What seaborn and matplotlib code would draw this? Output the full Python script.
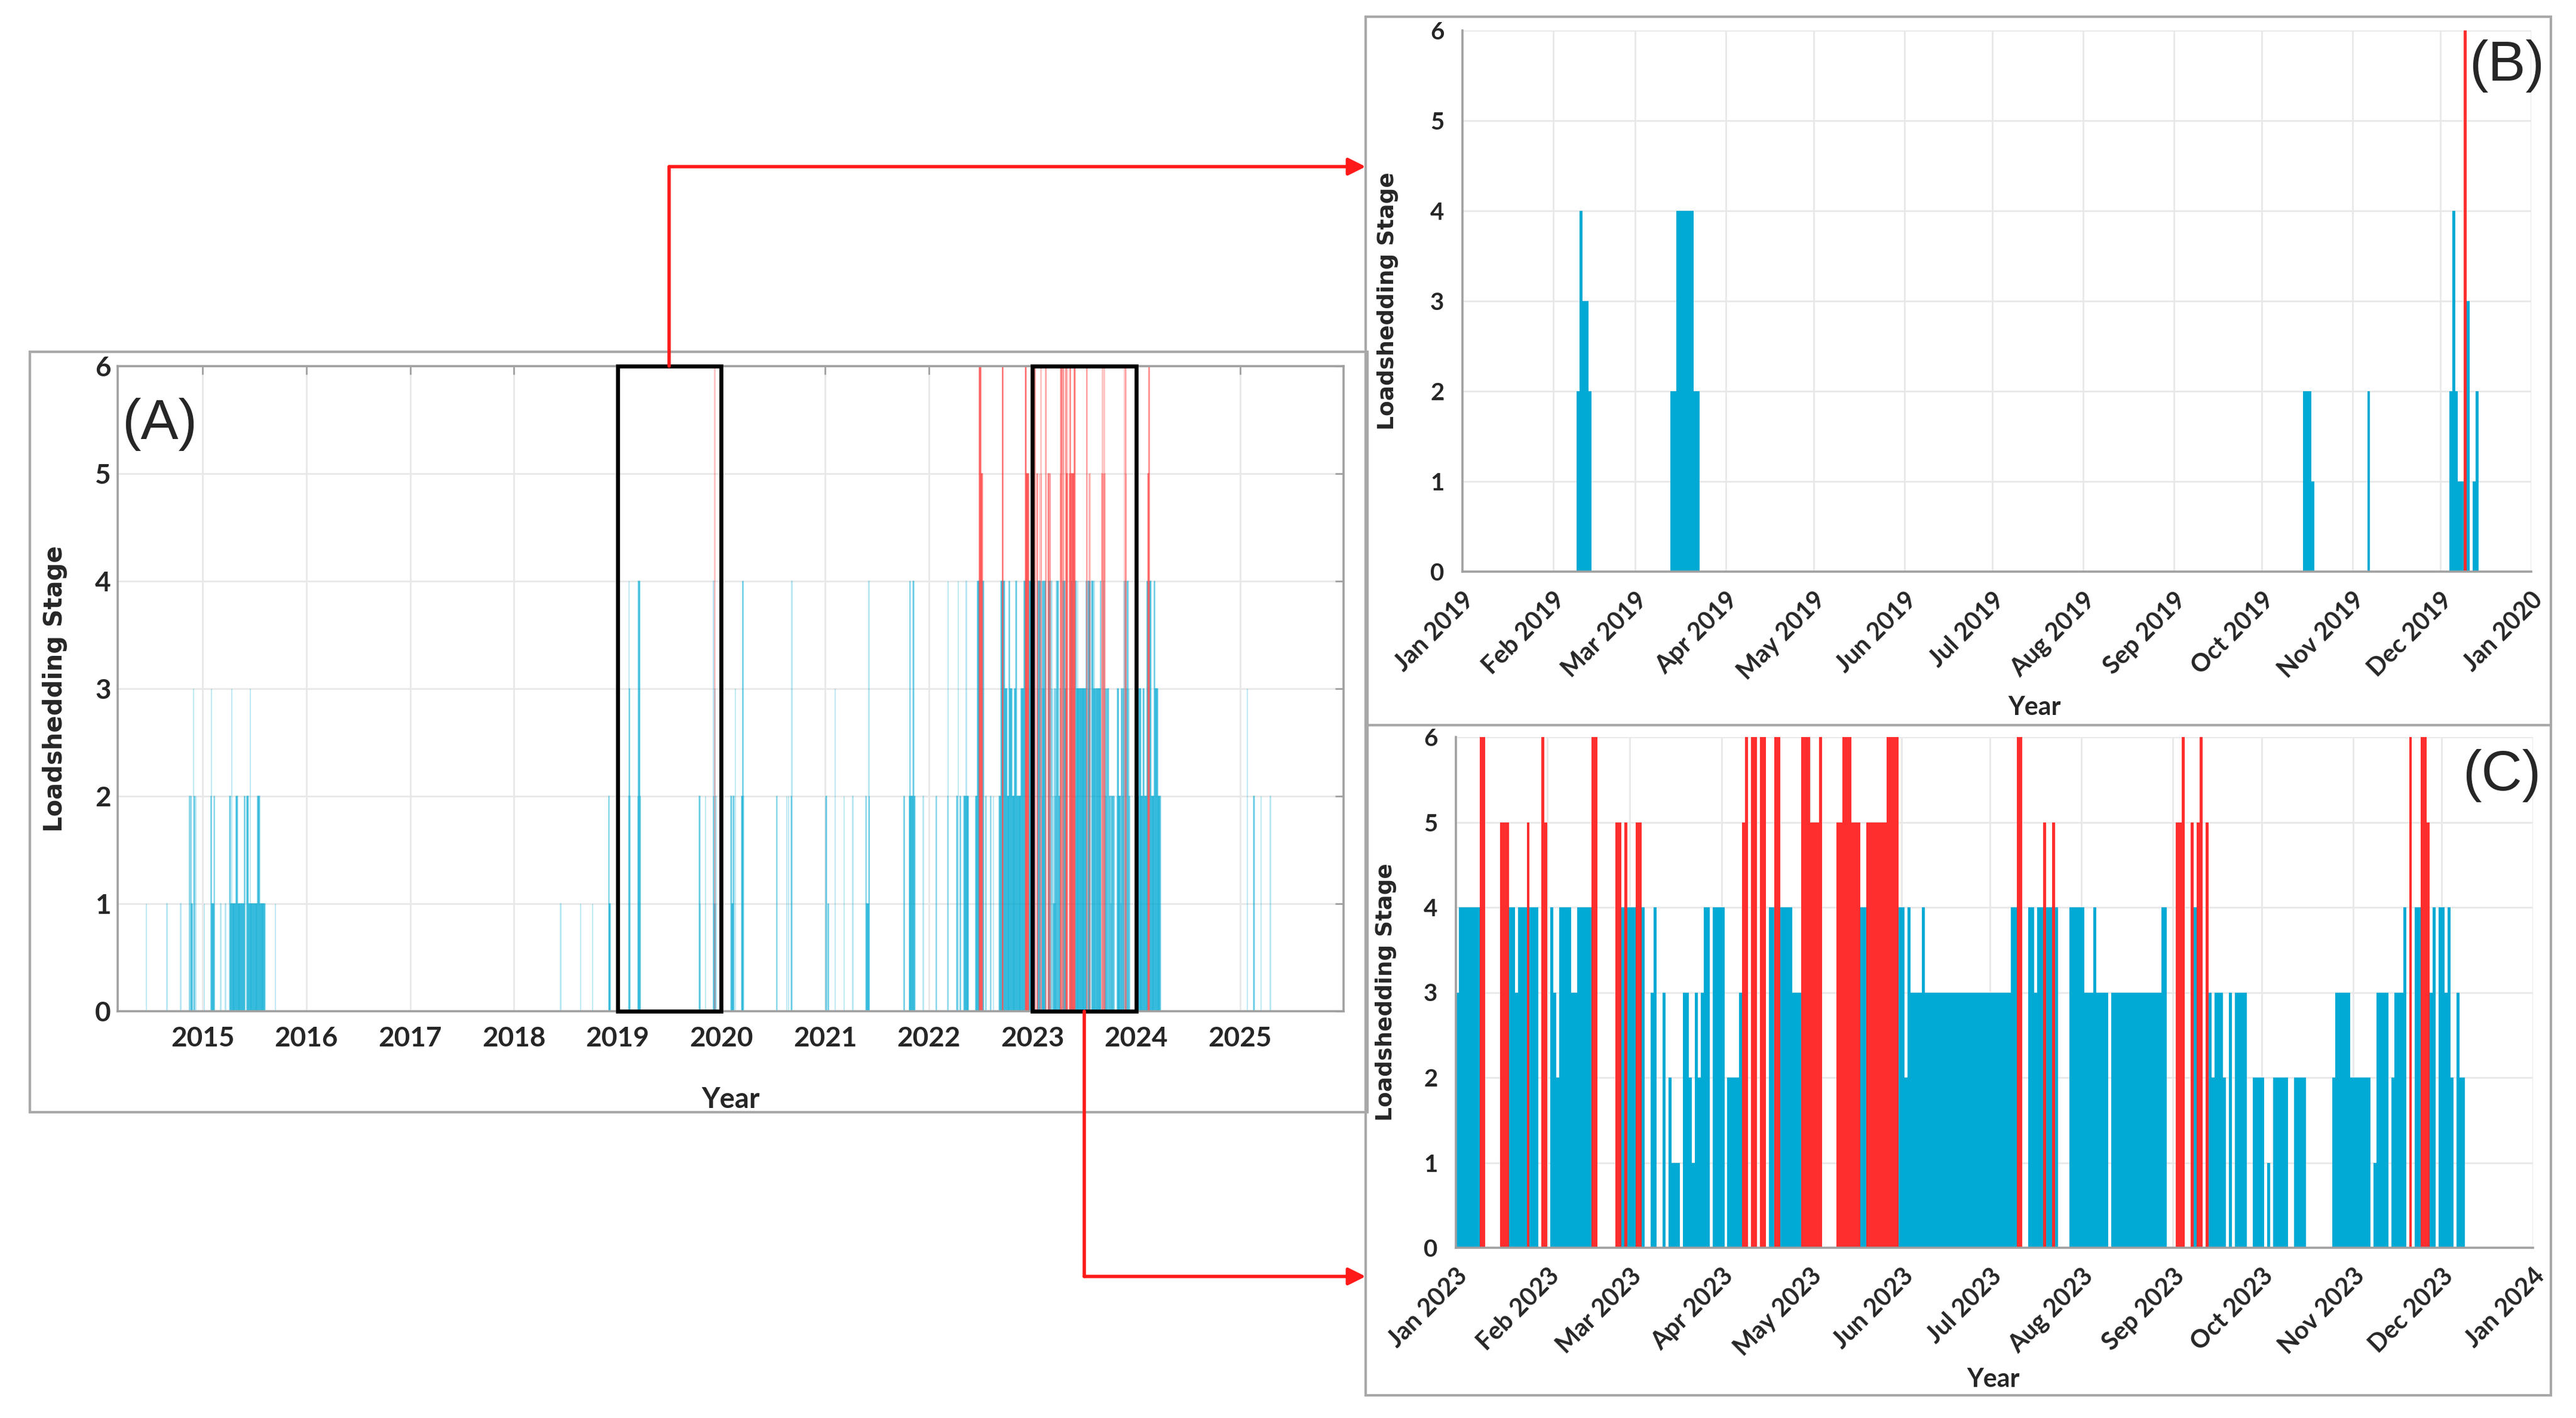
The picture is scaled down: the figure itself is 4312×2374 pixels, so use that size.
import matplotlib
matplotlib.use("Agg")
import matplotlib.pyplot as plt
import matplotlib.dates as mdates
from matplotlib.patches import Rectangle, FancyArrowPatch
from matplotlib.lines import Line2D
import seaborn as sns
import pandas as pd
import numpy as np

BLUE = "#00AAD4"
RED = "#FF2E2E"
GREY = "#A0A0A0"

# ---- panel B: 2019 runs (first day, last day, stage)
b_first = ["2019-02-09", "2019-02-10", "2019-02-11", "2019-02-13", "2019-03-13", "2019-03-15",
           "2019-03-21", "2019-10-15", "2019-10-18", "2019-11-06", "2019-12-04", "2019-12-05",
           "2019-12-06", "2019-12-07", "2019-12-09", "2019-12-10", "2019-12-12", "2019-12-13"]
b_last = ["2019-02-09", "2019-02-10", "2019-02-12", "2019-02-13", "2019-03-14", "2019-03-20",
          "2019-03-22", "2019-10-17", "2019-10-18", "2019-11-06", "2019-12-04", "2019-12-05",
          "2019-12-06", "2019-12-08", "2019-12-09", "2019-12-10", "2019-12-12", "2019-12-13"]
b_stage = [2, 4, 3, 2, 2, 4, 2, 2, 1, 2, 2, 4, 2, 1, 6, 3, 1, 2]

# ---- panel C: 2023 runs, day offsets from 1 Jan 2023
c_first = [0, 1, 8, 15, 18, 20, 21, 24, 25, 29, 30,
           32, 33, 34, 35, 39, 41, 46, 54, 56, 57, 58,
           61, 63, 66, 67, 70, 72, 73, 77, 79, 80, 81, 82, 83, 84, 87,
           92, 96, 97, 98, 100, 103, 106, 108, 110, 114, 117,
           120, 123, 129, 131, 134, 137, 139, 146, 150,
           152, 153, 154, 158, 159,
           188, 190, 194, 196, 197, 199, 200, 202, 203, 208,
           213, 216, 217, 222, 239,
           244, 246, 249, 250, 251, 252, 254, 255, 256, 257, 260, 262, 264, 270,
           275, 277, 284, 297, 298,
           303, 311, 312, 317, 318, 321, 323, 325, 327, 329, 330, 331, 333,
           335, 336, 337, 339, 340]
c_last = [0, 7, 9, 17, 19, 20, 23, 24, 27, 29, 30,
          32, 33, 34, 38, 40, 45, 47, 55, 56, 57, 60,
          62, 63, 66, 67, 70, 72, 75, 78, 79, 80, 81, 82, 83, 85, 90,
          95, 96, 97, 98, 101, 104, 107, 109, 113, 116, 119,
          122, 123, 130, 133, 136, 138, 145, 149, 151,
          152, 153, 157, 158, 187,
          189, 191, 195, 196, 198, 199, 201, 202, 203, 212,
          215, 216, 220, 238, 240,
          245, 246, 249, 250, 251, 252, 254, 255, 256, 259, 260, 262, 267, 273,
          275, 281, 287, 297, 302,
          309, 311, 315, 317, 320, 321, 323, 326, 328, 329, 330, 331, 334,
          335, 336, 337, 339, 341]
c_stage = [3, 4, 6, 5, 4, 3, 4, 5, 4, 6, 5,
           4, 3, 2, 4, 3, 4, 6, 5, 4, 5, 4,
           5, 4, 3, 4, 3, 2, 1, 3, 2, 1, 3, 2, 3, 4, 4,
           2, 3, 5, 6, 6, 6, 4, 6, 4, 3, 6,
           5, 6, 5, 6, 5, 4, 5, 6, 4,
           2, 4, 3, 4, 3,
           4, 6, 4, 3, 4, 5, 4, 5, 4, 4,
           3, 4, 3, 3, 4,
           5, 6, 5, 4, 5, 6, 5, 3, 2, 3, 2, 3, 3, 2,
           1, 2, 2, 2, 3,
           2, 1, 3, 2, 3, 4, 6, 4, 6, 5, 3, 4, 4,
           3, 4, 2, 3, 2]

# ---- panel A: other years (2019 and 2023 come from B and C)
a_first = ["2014-06-16", "2014-08-28", "2014-10-15", "2014-11-15", "2014-11-20", "2014-11-22",
           "2014-11-30", "2014-12-02", "2014-12-08",
           "2015-01-06", "2015-01-30", "2015-02-01", "2015-02-02", "2015-02-10", "2015-03-05",
           "2015-03-22", "2015-04-06", "2015-04-09", "2015-04-13", "2015-04-14", "2015-04-28",
           "2015-05-04", "2015-05-27", "2015-06-05", "2015-06-11", "2015-06-17", "2015-06-18",
           "2015-07-13", "2015-07-21", "2015-09-14",
           "2018-06-14", "2018-08-24", "2018-10-05", "2018-11-30", "2018-12-02",
           "2020-02-04", "2020-02-07", "2020-02-12", "2020-02-19", "2020-03-12", "2020-03-16",
           "2020-03-19", "2020-07-14", "2020-08-18", "2020-08-24", "2020-09-03", "2020-09-05",
           "2021-01-03", "2021-01-10", "2021-02-05", "2021-03-08", "2021-04-08", "2021-05-24",
           "2021-05-26", "2021-06-03", "2021-06-04", "2021-10-05", "2021-10-23", "2021-10-26",
           "2021-10-28", "2021-11-06", "2021-11-09", "2021-12-12",
           "2022-01-26", "2022-03-08", "2022-03-09", "2022-04-09", "2022-04-14", "2022-04-20",
           "2022-05-04", "2022-05-12", "2022-05-13", "2022-06-14", "2022-06-20", "2022-06-27",
           "2022-07-04", "2022-07-09", "2022-07-20", "2022-08-05", "2022-08-16", "2022-09-05",
           "2022-09-11", "2022-09-16", "2022-09-20", "2022-09-25", "2022-10-03", "2022-10-10",
           "2022-10-13", "2022-10-21", "2022-10-29", "2022-11-03", "2022-11-06", "2022-11-21",
           "2022-12-01", "2022-12-06", "2022-12-10", "2022-12-19",
           "2024-01-05", "2024-01-10", "2024-01-17", "2024-01-25", "2024-01-29", "2024-02-07",
           "2024-02-11", "2024-02-14", "2024-02-17", "2024-02-22", "2024-03-04", "2024-03-07",
           "2024-03-17",
           "2025-01-26", "2025-02-17", "2025-03-15", "2025-04-17"]
a_last = ["2014-06-16", "2014-08-28", "2014-10-15", "2014-11-16", "2014-11-21", "2014-11-25",
          "2014-11-30", "2014-12-04", "2014-12-08",
          "2015-01-06", "2015-01-31", "2015-02-01", "2015-02-09", "2015-02-11", "2015-03-05",
          "2015-03-22", "2015-04-08", "2015-04-12", "2015-04-13", "2015-04-27", "2015-05-03",
          "2015-05-26", "2015-05-29", "2015-06-10", "2015-06-16", "2015-06-17", "2015-07-12",
          "2015-07-20", "2015-08-08", "2015-09-14",
          "2018-06-14", "2018-08-24", "2018-10-05", "2018-12-01", "2018-12-06",
          "2020-02-06", "2020-02-11", "2020-02-14", "2020-02-19", "2020-03-15", "2020-03-18",
          "2020-03-19", "2020-07-15", "2020-08-18", "2020-08-24", "2020-09-04", "2020-09-05",
          "2021-01-05", "2021-01-12", "2021-02-05", "2021-03-08", "2021-04-08", "2021-05-25",
          "2021-06-02", "2021-06-03", "2021-06-05", "2021-10-07", "2021-10-25", "2021-10-27",
          "2021-11-05", "2021-11-08", "2021-11-12", "2021-12-12",
          "2022-01-27", "2022-03-08", "2022-03-09", "2022-04-11", "2022-04-14", "2022-04-22",
          "2022-05-11", "2022-05-12", "2022-05-20", "2022-06-19", "2022-06-26", "2022-07-03",
          "2022-07-08", "2022-07-12", "2022-07-21", "2022-08-06", "2022-08-16", "2022-09-10",
          "2022-09-15", "2022-09-19", "2022-09-24", "2022-10-02", "2022-10-09", "2022-10-12",
          "2022-10-20", "2022-10-28", "2022-11-02", "2022-11-05", "2022-11-20", "2022-11-30",
          "2022-12-05", "2022-12-09", "2022-12-18", "2022-12-31",
          "2024-01-09", "2024-01-16", "2024-01-24", "2024-01-28", "2024-02-06", "2024-02-10",
          "2024-02-13", "2024-02-16", "2024-02-21", "2024-03-03", "2024-03-06", "2024-03-16",
          "2024-03-26",
          "2025-01-26", "2025-02-19", "2025-03-15", "2025-04-17"]
a_stage = [1, 1, 1, 2, 2, 1, 3, 2, 2,
           1, 2, 3, 1, 2, 1, 1, 2, 1, 3, 1, 2, 1, 2, 2, 1, 3, 1, 2, 1, 1,
           1, 1, 1, 2, 1,
           2, 1, 2, 3, 2, 4, 2, 2, 2, 2, 2, 4,
           2, 1, 3, 2, 2, 2, 1, 4, 2, 2, 2, 4, 2, 4, 2, 2,
           2, 2, 4, 2, 4, 2, 2, 4, 2, 2, 4, 6, 5, 4, 2, 2, 2, 2, 4, 6, 4, 3, 2, 4,
           3, 2, 3, 4, 2, 3, 4, 6, 5, 4,
           2, 3, 2, 3, 2, 4, 5, 6, 4, 2, 4, 3, 2,
           3, 2, 2, 2]


def daily(first, last, stage):
    rows = []
    for f, l, s in zip(first, last, stage):
        for d in pd.date_range(f, l, freq="D"):
            rows.append((d, s))
    df = pd.DataFrame(rows, columns=["date", "stage"])
    df["x"] = mdates.date2num(df["date"]) + 0.5
    df["level"] = np.where(df["stage"] >= 5, "high", "normal")
    return df


c_base = pd.Timestamp("2023-01-01")
df_b = daily(b_first, b_last, b_stage)
df_c = daily([c_base + pd.Timedelta(days=d) for d in c_first],
             [c_base + pd.Timedelta(days=d) for d in c_last], c_stage)
df_a = pd.concat([daily(a_first, a_last, a_stage), df_b, df_c], ignore_index=True)

sns.set_theme(style="whitegrid")
plt.rcParams["font.family"] = ["Lato", "DejaVu Sans"]

W, H = 4312, 2374
fig = plt.figure(figsize=(W / 200, H / 200), dpi=200)


def px_axes(l, t, r, b):
    return fig.add_axes([l / W, 1 - b / H, (r - l) / W, (b - t) / H])


axA = px_axes(197, 613, 2249, 1693)
axB = px_axes(2448, 51, 4237, 957)
axC = px_axes(2437, 1234, 4240, 2089)


def bars(ax, df, **kw):
    sns.barplot(data=df, x="x", y="stage", hue="level", hue_order=["normal", "high"],
                palette={"normal": BLUE, "high": RED}, native_scale=True, dodge=False,
                width=1, saturation=1, errorbar=None, legend=False, ax=ax, **kw)


bars(axA, df_a, fill=False, linewidth=0.6, alpha=0.3)
bars(axB, df_b, linewidth=0)
bars(axC, df_c, linewidth=0)

for ax in (axA, axB, axC):
    ax.set_ylim(0, 6)
    ax.set_yticks(range(7))
    ax.grid(True, color="#E8E8E8", linewidth=1.0)
    ax.set_axisbelow(True)

# panel A styling
axA.set_xlim(mdates.datestr2num("2014-03-08"), mdates.datestr2num("2025-12-31"))
axA.xaxis.set_major_locator(mdates.YearLocator())
axA.xaxis.set_major_formatter(mdates.DateFormatter("%Y"))
for s in axA.spines.values():
    s.set_visible(True)
    s.set_color(GREY)
    s.set_linewidth(1.3)
axA.tick_params(axis="both", direction="in", length=5, width=1, color=GREY,
                top=True, right=True, labelsize=16.5)
axA.tick_params(axis="x", pad=9)
axA.tick_params(axis="y", pad=4)
for lab in axA.get_xticklabels() + axA.get_yticklabels():
    lab.set_fontweight("bold")
axA.set_xlabel("Year", fontsize=17, fontweight="bold")
axA.set_ylabel("Loadshedding Stage", fontsize=15, fontweight="bold", family="DejaVu Sans")
axA.xaxis.set_label_coords(0.5, -0.117)
axA.yaxis.set_label_coords(-0.041, 0.5)
axA.text(0.034, 0.91, "(A)", transform=axA.transAxes, ha="center", va="center",
         fontsize=34, family="Liberation Sans")

# zoom boxes
for yr in (2019, 2023):
    x0 = mdates.datestr2num(f"{yr}-01-01")
    x1 = mdates.datestr2num(f"{yr + 1}-01-01")
    axA.add_patch(Rectangle((x0, 0), x1 - x0, 6, fill=False, edgecolor="black",
                            linewidth=2.4, zorder=6, clip_on=False))

# panels B and C styling
for ax, yr, ylab_x, year_xy, tag, tag_xy in (
        (axB, 2019, -0.060, (0.535, -0.228), "(B)", (0.977, 0.934)),
        (axC, 2023, -0.055, (0.499, -0.234), "(C)", (0.971, 0.924))):
    ax.set_xlim(mdates.datestr2num(f"{yr}-01-01"), mdates.datestr2num(f"{yr + 1}-01-01"))
    ax.xaxis.set_major_locator(mdates.MonthLocator())
    ax.xaxis.set_major_formatter(mdates.DateFormatter("%b %Y"))
    for side in ("top", "right"):
        ax.spines[side].set_visible(False)
    for side in ("left", "bottom"):
        ax.spines[side].set_color(GREY)
        ax.spines[side].set_linewidth(1.3)
    ax.tick_params(axis="both", direction="out", length=6, width=1, color=GREY)
    ax.tick_params(axis="x", labelsize=15, pad=4)
    ax.tick_params(axis="y", labelsize=14.5, pad=5)
    plt.setp(ax.get_xticklabels(), rotation=45, ha="right", rotation_mode="anchor",
             fontweight="bold")
    plt.setp(ax.get_yticklabels(), fontweight="bold")
    ax.set_xlabel("Year", fontsize=15.5, fontweight="bold")
    ax.set_ylabel("Loadshedding Stage", fontsize=13.5, fontweight="bold", family="DejaVu Sans")
    ax.xaxis.set_label_coords(*year_xy)
    ax.yaxis.set_label_coords(ylab_x, 0.5)
    ax.text(*tag_xy, tag, transform=ax.transAxes, ha="center", va="center",
            fontsize=34, family="Liberation Sans")

# panel frames
for l, t, r, b in ((50, 589, 2289, 1862), (2286, 28, 4270, 1214), (2286, 1214, 4270, 2336)):
    fig.add_artist(Rectangle((l / W, 1 - b / H), (r - l) / W, (b - t) / H,
                             transform=fig.transFigure, fill=False,
                             edgecolor="#A8A8A8", linewidth=1.5))

# connector arrows
to_fig = axA.transData + fig.transFigure.inverted()
x_frame = 2286 / W
for date, y0, y_turn in (("2019-07-02", 6, 1 - 279 / H), ("2023-07-02", 0, 1 - 2137 / H)):
    sx, sy = to_fig.transform((mdates.datestr2num(date), y0))
    fig.add_artist(Line2D([sx, sx], [sy, y_turn], transform=fig.transFigure,
                          color="#FF1A1A", linewidth=2))
    fig.add_artist(FancyArrowPatch((sx, y_turn), (x_frame, y_turn), transform=fig.transFigure,
                                   arrowstyle="-|>", mutation_scale=22, color="#FF1A1A",
                                   linewidth=2, shrinkA=0, shrinkB=0))

fig.savefig("out.png", dpi=200, facecolor="white")
